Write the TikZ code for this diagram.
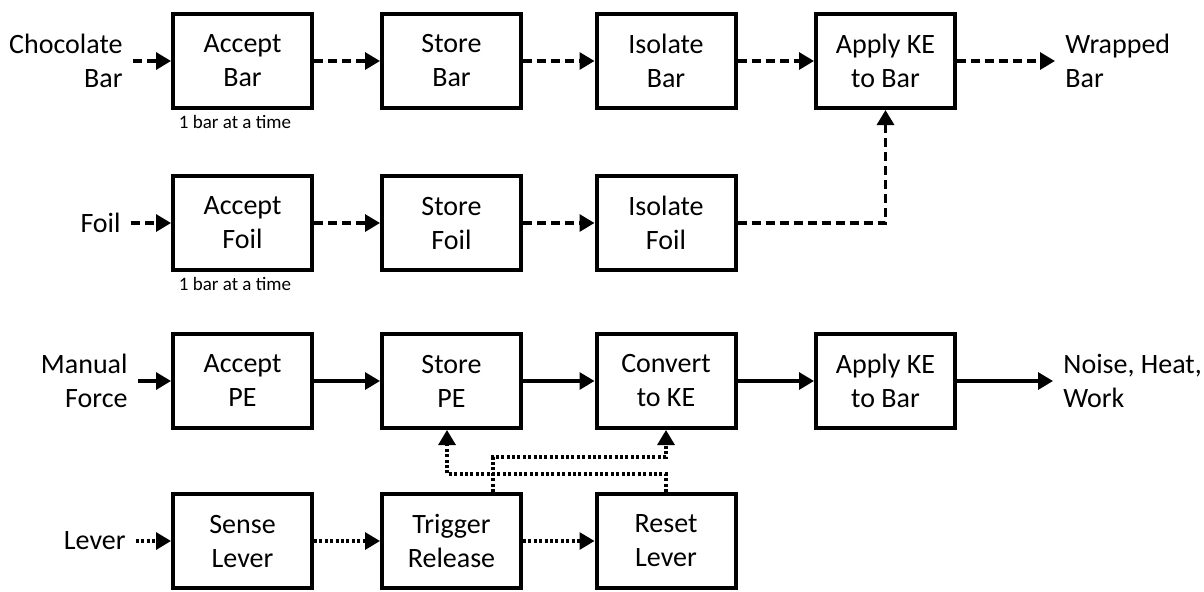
\documentclass[tikz,border=0pt]{standalone}
\usepackage{fontspec}
\setmainfont{Carlito}
\usetikzlibrary{arrows.meta}
\begin{document}
\begin{tikzpicture}[x=0.5pt,y=-0.5pt,
  every node/.style={font=\fontsize{14}{17}\selectfont},
  blk/.style={draw,line width=2pt,minimum width=69.5pt,minimum height=47pt,align=center,inner sep=2pt},
  inlbl/.style={anchor=east,align=right,inner sep=5pt},
  outlbl/.style={anchor=west,align=left,inner sep=5pt},
  note/.style={font=\fontsize{9.5}{11}\selectfont,inner sep=1pt},
  flow/.style={line width=1.6pt,-{Triangle[length=7.5pt,width=8.5pt]}},
  dashflow/.style={flow,dash pattern=on 4.5pt off 2.5pt},
  dotflow/.style={flow,dash pattern=on 1.5pt off 1.2pt}]
\useasboundingbox (0,0) rectangle (1204,591);
% chocolate bar path
\node[blk] (ab) at (242.5,61) {Accept\\Bar};
\node[blk] (sb) at (451.5,61) {Store\\Bar};
\node[blk] (ib) at (666,61) {Isolate\\Bar};
\node[blk] (kb) at (885.5,61) {Apply KE\\to Bar};
% foil path
\node[blk] (af) at (242.5,223) {Accept\\Foil};
\node[blk] (sf) at (451.5,223) {Store\\Foil};
\node[blk] (isf) at (666,223) {Isolate\\Foil};
% energy path
\node[blk] (ape) at (242.5,381) {Accept\\PE};
\node[blk] (spe) at (451.5,381) {Store\\PE};
\node[blk] (cke) at (666,381) {Convert\\to KE};
\node[blk] (ake) at (885.5,381) {Apply KE\\to Bar};
% lever path
\node[blk] (sl) at (242.5,541) {Sense\\Lever};
\node[blk] (tr) at (451.5,541) {Trigger\\Release};
\node[blk] (rl) at (666,541) {Reset\\Lever};
% inputs and outputs
\node[inlbl] (cb) at (133,61) {Chocolate\\Bar};
\node[inlbl] (fl) at (131,223) {Foil};
\node[inlbl] (mf) at (138,381) {Manual\\Force};
\node[inlbl] (lv) at (136,541) {Lever};
\node[outlbl] (wb) at (1055,61) {Wrapped\\Bar};
\node[outlbl] (nhw) at (1053,381) {Noise, Heat,\\Work};
\node[note] (n1) at (235,122) {1 bar at a time};
\node[note] (n2) at (235,284) {1 bar at a time};
% material flows
\draw[dashflow] (cb.east) -- (ab.west);
\draw[dashflow] (ab) -- (sb);
\draw[dashflow] (sb) -- (ib);
\draw[dashflow] (ib) -- (kb);
\draw[dashflow] (kb.east) -- (wb.west);
\draw[dashflow] (fl.east) -- (af.west);
\draw[dashflow] (af) -- (sf);
\draw[dashflow] (sf) -- (isf);
\draw[dashflow] (isf.east) -| (kb.south);
% energy flows
\draw[flow] (mf.east) -- (ape.west);
\draw[flow] (ape) -- (spe);
\draw[flow] (spe) -- (cke);
\draw[flow] (cke) -- (ake);
\draw[flow] (ake.east) -- (nhw.west);
% signal flows
\coordinate (tb) at (493,457);
\coordinate (rb) at (447,474);
\draw[dotflow] (lv.east) -- (sl.west);
\draw[dotflow] (sl) -- (tr);
\draw[dotflow] (tr) -- (rl);
\draw[dotflow] (tb |- tr.north) -- (tb) -| (cke.south);
\draw[dotflow] (rl.north) |- (rb) -- (rb |- spe.south);
\end{tikzpicture}
\end{document}
